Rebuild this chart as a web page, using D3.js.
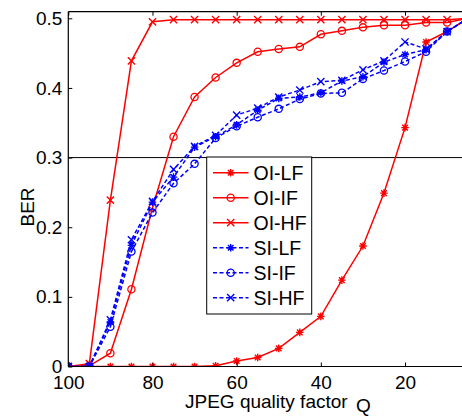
<!DOCTYPE html>
<html>
<head>
<meta charset="utf-8">
<script src="https://cdn.jsdelivr.net/npm/d3@7"></script>
<style>
  body { margin: 0; background: #fff; }
  svg text { font-family: "Liberation Sans", Arial, sans-serif; fill: #000; }
</style>
</head>
<body>
<svg id="chart"></svg>
<script>
// JPEG quality factor on x, BER on y
let quality = [100, 95, 90, 85, 80, 75, 70, 65, 60, 55, 50, 45, 40, 35, 30, 25, 20, 15, 10, 5]

let oiLF = [0, 0, 0, 0, 0, 0, 0, 0.001, 0.008, 0.013, 0.026, 0.049, 0.072, 0.124, 0.173, 0.249, 0.343, 0.466, 0.481, 0.5]
let oiIF = [0, 0.001, 0.019, 0.111, 0.228, 0.330, 0.387, 0.415, 0.436, 0.452, 0.456, 0.459, 0.477, 0.482, 0.487, 0.490, 0.490, 0.494, 0.494, 0.5]
let oiHF = [0, 0.004, 0.239, 0.439, 0.495, 0.498, 0.498, 0.498, 0.498, 0.498, 0.498, 0.498, 0.498, 0.498, 0.498, 0.498, 0.498, 0.498, 0.498, 0.5]
let siLF = [0, 0, 0.064, 0.174, 0.236, 0.272, 0.315, 0.330, 0.347, 0.368, 0.385, 0.387, 0.393, 0.410, 0.416, 0.437, 0.448, 0.455, 0.481, 0.5]
let siIF = [0, 0, 0.057, 0.165, 0.221, 0.263, 0.291, 0.328, 0.345, 0.358, 0.370, 0.384, 0.392, 0.393, 0.413, 0.425, 0.438, 0.452, 0.481, 0.5]
let siHF = [0, 0, 0.067, 0.182, 0.237, 0.283, 0.316, 0.332, 0.361, 0.371, 0.387, 0.397, 0.409, 0.411, 0.426, 0.439, 0.466, 0.456, 0.481, 0.5]

let seriesNames = ['OI-LF', 'OI-IF', 'OI-HF', 'SI-LF', 'SI-IF', 'SI-HF']
let seriesValues = [oiLF, oiIF, oiHF, siLF, siIF, siHF]
let seriesColors = ['#ff0000', '#ff0000', '#ff0000', '#0000ff', '#0000ff', '#0000ff']
let seriesMarkers = ['star', 'circle', 'cross', 'star', 'circle', 'cross']
let seriesDash = [null, null, null, '4,2.5', '4,2.5', '4,2.5']

let xTicks = [100, 80, 60, 40, 20]
let yTicks = [0, 0.1, 0.2, 0.3, 0.4, 0.5]
let refLine = 0.3

let width = 462
let height = 416
let plotLeft = 68.3
let plotTop = 11.7
let plotBottom = 366.5

let svg = d3.select('#chart').attr('width', width).attr('height', height)

// axis is cropped on the right, so range runs past the svg edge
let xScale = d3.scaleLinear().domain([100, 0]).range([plotLeft, plotLeft + 100 * 4.209])
let yScale = d3.scaleLinear().domain([0, 0.5]).range([plotBottom, plotBottom - 0.5 * 696.4])

svg.append('clipPath').attr('id', 'plotclip')
    .append('rect')
    .attr('x', plotLeft).attr('y', plotTop)
    .attr('width', width - plotLeft).attr('height', plotBottom - plotTop)

// reference line at 0.3
svg.append('line')
    .attr('x1', plotLeft).attr('x2', width)
    .attr('y1', yScale(refLine)).attr('y2', yScale(refLine))
    .attr('stroke', '#000').attr('stroke-width', 1)

let drawMarker = (g, type, x, y, color) => {
    if (type == 'circle') {
        g.append('circle').attr('cx', x).attr('cy', y).attr('r', 3.6)
            .attr('fill', 'none').attr('stroke', color).attr('stroke-width', 1.3)
    } else if (type == 'cross') {
        let s = 3.6
        g.append('path')
            .attr('d', `M${x - s},${y - s}L${x + s},${y + s}M${x - s},${y + s}L${x + s},${y - s}`)
            .attr('stroke', color).attr('stroke-width', 1.4).attr('fill', 'none')
    } else {
        let s = 3.8, d = 2.8
        g.append('path')
            .attr('d', `M${x - s},${y}L${x + s},${y}M${x},${y - s}L${x},${y + s}` +
                `M${x - d},${y - d}L${x + d},${y + d}M${x - d},${y + d}L${x + d},${y - d}`)
            .attr('stroke', color).attr('stroke-width', 1.4).attr('fill', 'none')
    }
}

let plot = svg.append('g').attr('clip-path', 'url(#plotclip)')

let line = d3.line()
    .x((d, i) => xScale(quality[i]))
    .y((d) => yScale(d))

seriesValues.forEach((vals, k) => {
    let g = plot.append('g')
    g.append('path')
        .attr('d', line(vals))
        .attr('fill', 'none')
        .attr('stroke', seriesColors[k])
        .attr('stroke-width', 1.5)
        .attr('stroke-dasharray', seriesDash[k])
    vals.forEach((v, i) => {
        drawMarker(g, seriesMarkers[k], xScale(quality[i]), yScale(v), seriesColors[k])
    })
})

// axes, matlab style with inward ticks and a box
let xAxis = d3.axisBottom(xScale).tickValues(xTicks).tickSizeInner(-4).tickSizeOuter(0).tickPadding(9)
let yAxis = d3.axisLeft(yScale).tickValues(yTicks).tickSizeInner(-4).tickSizeOuter(0).tickPadding(6)
    .tickFormat((d) => d == 0 ? '0' : d3.format('.1f')(d))

let gx = svg.append('g').attr('transform', 'translate(0,' + plotBottom + ')').call(xAxis)
let gy = svg.append('g').attr('transform', 'translate(' + plotLeft + ',0)').call(yAxis)
let gt = svg.append('g').attr('transform', 'translate(0,' + plotTop + ')')
    .call(d3.axisTop(xScale).tickValues(xTicks).tickSizeInner(-4).tickSizeOuter(0).tickFormat(''))

;[gx, gy, gt].forEach((g) => {
    g.select('.domain').remove()
    g.selectAll('.tick line').attr('stroke', '#000')
    g.selectAll('.tick text').style('font-size', '19px').style('font-family', '"Liberation Sans", Arial, sans-serif')
})
gx.selectAll('.tick text').attr('dy', '0.72em')

// box lines
svg.append('line').attr('x1', plotLeft).attr('x2', width).attr('y1', plotBottom).attr('y2', plotBottom)
    .attr('stroke', '#000').attr('stroke-width', 1.2)
svg.append('line').attr('x1', plotLeft).attr('x2', width).attr('y1', plotTop).attr('y2', plotTop)
    .attr('stroke', '#000').attr('stroke-width', 1.2)
svg.append('line').attr('x1', plotLeft).attr('x2', plotLeft).attr('y1', plotTop).attr('y2', plotBottom)
    .attr('stroke', '#000').attr('stroke-width', 1.2)

// axis labels
svg.append('text').attr('x', 185).attr('y', 408)
    .style('font-size', '19px').text('JPEG quality factor')
svg.append('text').attr('x', 356).attr('y', 412)
    .style('font-size', '19px').text('Q')
svg.append('text')
    .attr('transform', 'translate(34,207) rotate(-90)')
    .attr('text-anchor', 'middle')
    .style('font-size', '19px').text('BER')

// legend
let legend = svg.append('g')
legend.append('rect')
    .attr('x', 206.7).attr('y', 157)
    .attr('width', 105).attr('height', 157)
    .attr('fill', '#fff').attr('stroke', '#000').attr('stroke-width', 1)

seriesNames.forEach((name, k) => {
    let y = 172.7 + k * 25
    legend.append('line')
        .attr('x1', 213).attr('x2', 248.5).attr('y1', y).attr('y2', y)
        .attr('stroke', seriesColors[k]).attr('stroke-width', 1.5)
        .attr('stroke-dasharray', seriesDash[k])
    drawMarker(legend, seriesMarkers[k], 230.7, y, seriesColors[k])
    legend.append('text')
        .attr('x', 253.5).attr('y', y).attr('dy', '0.36em')
        .style('font-size', '19.5px').text(name)
})
</script>
</body>
</html>
